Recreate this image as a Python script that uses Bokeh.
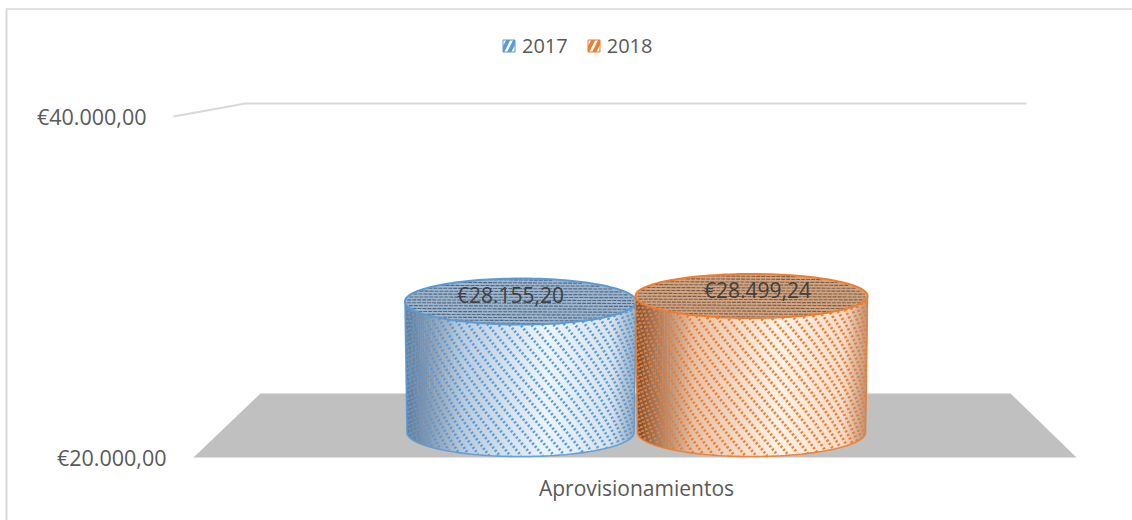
import numpy as np
from bokeh.core.properties import value
from bokeh.embed import file_html
from bokeh.models import Legend, LegendItem, Range1d
from bokeh.plotting import figure
from bokeh.resources import INLINE

categories = ["Aprovisionamientos"]
series_names = ["2017", "2018"]
values_2017 = [28155.20]
values_2018 = [28499.24]
tick_values = [20000, 40000]
tick_labels = ["€20.000,00", "€40.000,00"]

FONT = "Open Sans"
TEXT = "#595959"
BLUE, ORANGE = "#5b9bd5", "#ed7d31"

# Screen layout
SX0, SY0, W, H = 0, 0, 1132, 520
FRONT_PX_20K, FRONT_PX_40K = 457.0, 116.0
CYL_BASE_PX = 432.0
PXV = 0.01606          # pixels per euro in the plane of the cylinders

front_scale = (FRONT_PX_20K - FRONT_PX_40K) / 20000
def f(px):
    return 20000 + (FRONT_PX_20K - px) / front_scale

p = figure(width=W, height=H, output_backend="svg", toolbar_location=None,
           x_range=Range1d(SX0, SX0 + W), y_range=Range1d(f(SY0 + H), f(SY0)),
           min_border=0, outline_line_color=None,
           background_fill_color="white", border_fill_color="white")
p.xaxis.visible = False
p.yaxis.visible = False
p.grid.visible = False
p.extra_y_ranges = {"cyl": Range1d(20000 + (CYL_BASE_PX - (SY0 + H)) / PXV,
                                   20000 + (CYL_BASE_PX - SY0) / PXV)}

# Chart border
p.line([6, 6], [f(8), f(520)], line_color="#d9d9d9", line_width=2)
p.line([6, 1132], [f(8.5), f(8.5)], line_color="#d9d9d9", line_width=1.5)

# Wall top line and floor
p.line([173, 245, 1026], [f(116), f(103), f(103)], line_color="#d9d9d9", line_width=2)
p.patch([193, 260, 1010, 1076], [f(457), f(393), f(393), f(457)], fill_color="#c0c0c0", line_color=None)

# Axis labels
p.text([166], [tick_values[0]], text=[tick_labels[0]], text_font=value(FONT), text_font_size="21.5px",
       text_color=TEXT, text_align="right", text_baseline="middle")
p.text([146], [tick_values[1]], text=[tick_labels[1]], text_font=value(FONT), text_font_size="21.5px",
       text_color=TEXT, text_align="right", text_baseline="middle")
p.text([636], [f(487)], text=categories, text_font=value(FONT), text_font_size="21px",
       text_color=TEXT, text_align="center", text_baseline="middle")

def shade(stops_rgb, t):
    pos = [0, 0.06, 0.25, 0.62, 0.9, 1]
    c = [np.interp(t, pos, [s[i] for s in stops_rgb]) for i in range(3)]
    return "#%02x%02x%02x" % tuple(int(round(v)) for v in c)

def cylinder(cx, R, val, ry_top, color, stops, top_fill, top_line, label, label_x, label_y):
    Rb = R - 2.0
    ry_b = 24.0
    cy = "cyl"
    # body shading strips
    n = 92
    edges = np.linspace(-1, 1, n + 1)
    edges = np.sin(edges * np.pi / 2)
    xs, ys, cols = [], [], []
    for a, b in zip(edges[:-1], edges[1:]):
        arc_a = np.sqrt(max(0, 1 - a * a)) * ry_b / PXV
        arc_b = np.sqrt(max(0, 1 - b * b)) * ry_b / PXV
        xs.append([cx + R * a, cx + R * b + 0.4, cx + Rb * b + 0.4, cx + Rb * a])
        ys.append([val, val, 20000 - arc_b, 20000 - arc_a])
        cols.append(shade(stops, (a + b + 2) / 4))
    p.patches(xs, ys, fill_color=cols, line_color=None, y_range_name=cy)

    # diagonal dotted stripes that wrap round the cylinder
    phi = np.linspace(0.02, np.pi - 0.02, 260)
    u = 0.6 * (-np.cos(phi)) + 0.4 * (2 * phi / np.pi - 1)
    height_px = (val - 20000) * PXV
    lx, ly = [], []
    for off in np.arange(-560, 220, 13.0):
        sy = off + 1.0 * R * phi + ry_b * 0.5 * np.sin(phi)
        tt = np.clip(sy / max(height_px, 1), 0, 1)
        top_lim = ry_top * np.sqrt(np.clip(1 - u * u, 0, 1))
        bot_lim = height_px + ry_b * np.sqrt(np.clip(1 - u * u, 0, 1))
        mask = (sy >= top_lim) & (sy <= bot_lim)
        if mask.sum() < 2:
            continue
        width = R + (Rb - R) * tt
        lx.append((cx + width * u)[mask])
        ly.append((val - sy / PXV)[mask])
    p.multi_line(lx, ly, line_color=color, line_width=2.8, line_dash="2 2", y_range_name=cy)

    # body outline
    th = np.linspace(np.pi, 2 * np.pi, 80)
    ox = np.concatenate([[cx - R], cx + Rb * np.cos(th), [cx + R]])
    oy = np.concatenate([[val], 20000 + ry_b / PXV * np.sin(th), [val]])
    p.line(ox, oy, line_color=color, line_width=1.6, line_alpha=0.9, y_range_name=cy)

    # top
    t = np.linspace(0, 2 * np.pi, 140)
    p.patch(cx + R * np.cos(t), val + ry_top / PXV * np.sin(t), fill_color=top_fill, line_color=None, y_range_name=cy)
    hx, hy = [], []
    for d in np.arange(-ry_top + 1.5, ry_top, 2.9):
        half = R * np.sqrt(1 - (d / ry_top) ** 2) - 2
        hx.append([cx - half, cx + half])
        hy.append([val + d / PXV, val + (d - 0.8) / PXV])
    p.multi_line(hx, hy, line_color=top_line, line_width=1.1, line_alpha=0.9, line_dash="4 1", y_range_name=cy)
    p.line(cx + R * np.cos(t), val + ry_top / PXV * np.sin(t), line_color=color, line_width=2, y_range_name=cy)
    p.text([label_x], [val + label_y / PXV], text=[label], text_font=value(FONT), text_font_size="21px",
           text_color="#404040", text_align="center", text_baseline="middle", y_range_name=cy)

def money(v):
    s = f"{v:,.2f}".replace(",", "X").replace(".", ",").replace("X", ".")
    return "€" + s

blue_stops = [(105, 118, 135), (125, 140, 160), (185, 203, 222), (236, 245, 253), (214, 226, 238), (155, 170, 186)]
orange_stops = [(105, 75, 55), (150, 110, 85), (232, 192, 164), (255, 242, 230), (246, 220, 200), (180, 150, 130)]

cylinder(520, 115.5, values_2017[0], 23.0, BLUE, blue_stops, "#a0b6cc", "#42607f",
         money(values_2017[0]), 510, 7)
cylinder(751, 116, values_2018[0], 22.0, ORANGE, orange_stops, "#d2a582", "#755742",
         money(values_2018[0]), 757, 6)

# Legend swatches
nan = [float("nan")]
r1 = p.quad(left=nan, right=nan, top=nan, bottom=nan, fill_color=BLUE, fill_alpha=1.0, line_color=BLUE,
            hatch_pattern="right_diagonal_line", hatch_color="white", hatch_scale=14, hatch_weight=2.5)
r2 = p.quad(left=nan, right=nan, top=nan, bottom=nan, fill_color=ORANGE, fill_alpha=1.0, line_color=ORANGE,
            hatch_pattern="right_diagonal_line", hatch_color="white", hatch_scale=14, hatch_weight=2.5)
legend = Legend(items=[LegendItem(label=series_names[0], renderers=[r1]),
                       LegendItem(label=series_names[1], renderers=[r2])],
                orientation="horizontal", location=(501, 461), border_line_color=None,
                background_fill_alpha=0, glyph_width=15, glyph_height=15, label_standoff=6, spacing=18,
                margin=0, padding=0, label_text_font=FONT, label_text_font_size="20px", label_text_color=TEXT,
                label_height=15)
p.add_layout(legend, "center")

open("out.html", "w").write(file_html(p, INLINE))
